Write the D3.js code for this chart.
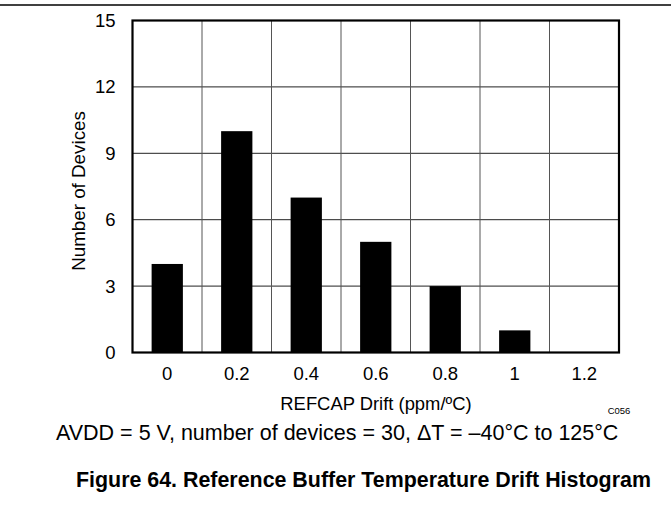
<!DOCTYPE html>
<html><head><meta charset="utf-8">
<script src="https://cdn.jsdelivr.net/npm/d3@7"></script>
<style>body{margin:0;background:#fff}svg{display:block;font-family:"Liberation Sans",Arial,sans-serif}</style>
</head><body><svg id="c" width="671" height="532"></svg>
<script>
const categories = ["0","0.2","0.4","0.6","0.8","1","1.2"];
const counts = [4,10,7,5,3,1,0];
const yTicks = [0,3,6,9,12,15];

const svg = d3.select("#c");
const m = {l:132.5, r:619, t:20.5, b:352.5};
const x = d3.scaleBand().domain(categories).range([m.l,m.r]);
const y = d3.scaleLinear().domain([0,15]).range([m.b,m.t]);
const FF = "Liberation Sans, Arial, sans-serif";

svg.append("line").attr("x1",0).attr("x2",671).attr("y1",5).attr("y2",5).attr("stroke","#000").attr("stroke-width",1.5);

// grid
svg.append("g").selectAll("line").data(yTicks.slice(1,-1)).join("line")
  .attr("x1",m.l).attr("x2",m.r).attr("y1",d=>y(d)).attr("y2",d=>y(d))
  .attr("stroke","#222").attr("stroke-width",1);
svg.append("g").selectAll("line").data(categories.slice(1)).join("line")
  .attr("x1",d=>x(d)).attr("x2",d=>x(d)).attr("y1",m.t).attr("y2",m.b)
  .attr("stroke","#555").attr("stroke-width",1);

// bars
const bw = x.bandwidth()*0.45;
svg.append("g").selectAll("rect").data(counts).join("rect")
  .attr("x",(d,i)=>x(categories[i])+x.bandwidth()/2-bw/2)
  .attr("width",bw)
  .attr("y",d=>y(d)).attr("height",d=>y(0)-y(d)).attr("fill","#000");

// frame
svg.append("rect").attr("x",m.l).attr("y",m.t).attr("width",m.r-m.l).attr("height",m.b-m.t)
  .attr("fill","none").attr("stroke","#000").attr("stroke-width",2.2);

// axes (labels only)
const yAxis = svg.append("g").attr("transform",`translate(${m.l},0)`)
  .call(d3.axisLeft(y).tickValues(yTicks).tickSize(0).tickPadding(17));
yAxis.select(".domain").remove();
yAxis.selectAll("text").attr("font-size",18.5).attr("fill","#000").attr("font-family",FF);

const xAxis = svg.append("g").attr("transform",`translate(0,${m.b})`)
  .call(d3.axisBottom(x).tickSize(0).tickPadding(14.5));
xAxis.select(".domain").remove();
xAxis.selectAll("text").attr("font-size",18.5).attr("fill","#000").attr("font-family",FF);

svg.append("text").attr("x",376).attr("y",410).attr("text-anchor","middle").attr("font-size",18.4)
  .text("REFCAP Drift (ppm/ºC)");
svg.append("text").attr("x",619).attr("y",414).attr("text-anchor","middle").attr("font-size",9.5)
  .text("C056");
svg.append("text").attr("transform","translate(85,191) rotate(-90)").attr("text-anchor","middle").attr("font-size",18.8)
  .text("Number of Devices");
svg.append("text").attr("x",56).attr("y",440).attr("font-size",21.5)
  .text("AVDD = 5 V, number of devices = 30, ΔT = –40°C to 125°C");
svg.append("text").attr("x",76).attr("y",487).attr("font-size",21.4).attr("font-weight","bold")
  .text("Figure 64. Reference Buffer Temperature Drift Histogram");
</script></body></html>
